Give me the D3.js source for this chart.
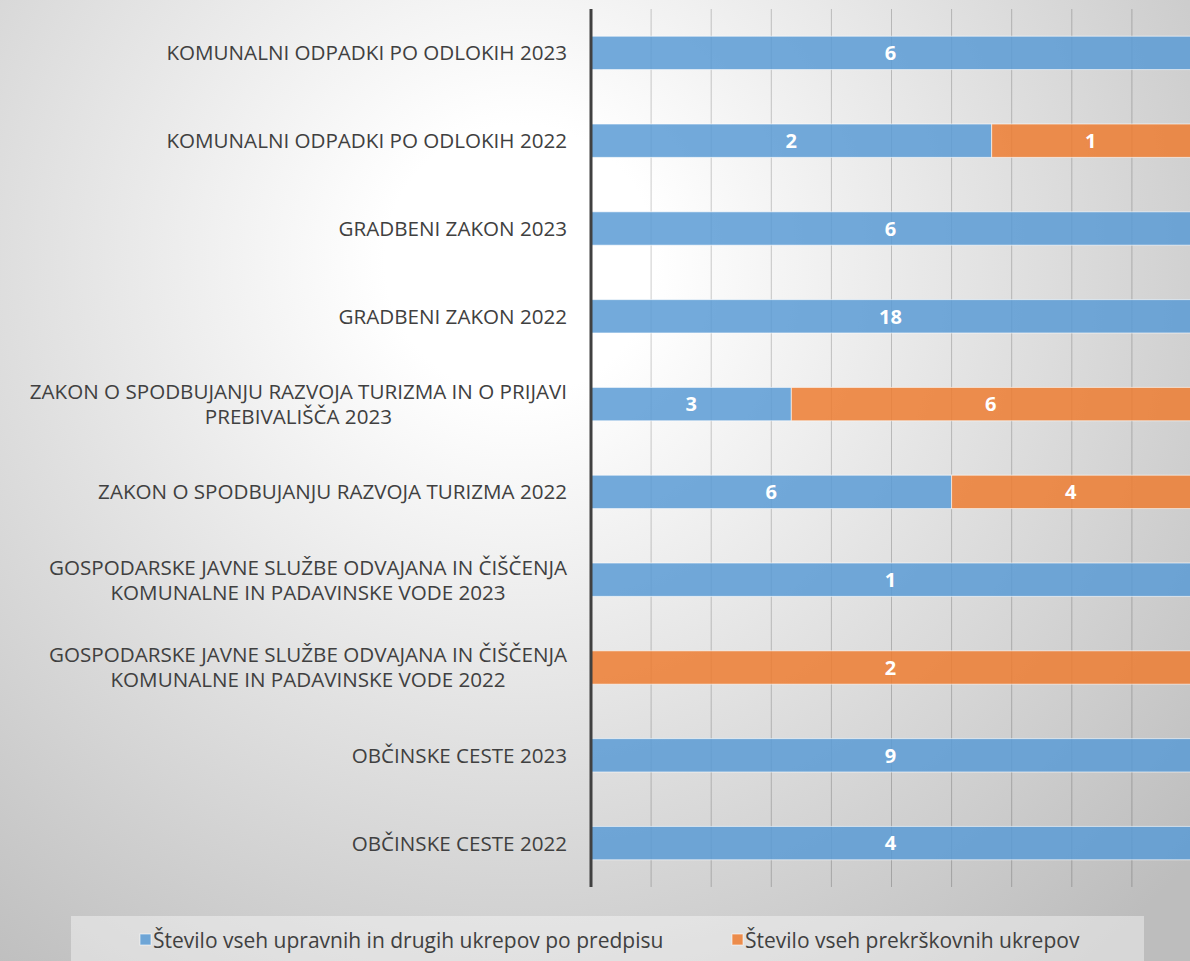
<!DOCTYPE html>
<html lang="sl">
<head>
<meta charset="utf-8">
<title>Ukrepi po predpisih</title>
<script src="https://d3js.org/d3.v7.min.js"></script>
<style>
  body { margin: 0; }
  svg { display: block; font-family: "Open Sans", sans-serif; }
</style>
</head>
<body>
<div id="chart"></div>
<script>
const categories = [
  'KOMUNALNI ODPADKI PO ODLOKIH 2023',
  'KOMUNALNI ODPADKI PO ODLOKIH 2022',
  'GRADBENI ZAKON 2023',
  'GRADBENI ZAKON 2022',
  'ZAKON O SPODBUJANJU RAZVOJA TURIZMA IN O PRIJAVI|PREBIVALIŠČA 2023',
  'ZAKON O SPODBUJANJU RAZVOJA TURIZMA 2022',
  'GOSPODARSKE JAVNE SLUŽBE ODVAJANA IN ČIŠČENJA|KOMUNALNE IN PADAVINSKE VODE 2023',
  'GOSPODARSKE JAVNE SLUŽBE ODVAJANA IN ČIŠČENJA|KOMUNALNE IN PADAVINSKE VODE 2022',
  'OBČINSKE CESTE 2023',
  'OBČINSKE CESTE 2022'
];
const upravni = [6, 2, 6, 18, 3, 6, 1, 0, 9, 4];
const prekrskovni = [0, 1, 0, 0, 6, 4, 0, 2, 0, 0];
const seriesNames = ['Število vseh upravnih in drugih ukrepov po predpisu', 'Število vseh prekrškovnih ukrepov'];
const seriesColors = ['#5b9bd5', '#ed7d31'];

const width = 1190, height = 961;
const plotLeft = 591, plotRight = 1192, plotTop = 9, plotBottom = 887;

const svg = d3.select('#chart').append('svg')
  .attr('width', width).attr('height', height);

// background
const defs = svg.append('defs');
const grad = defs.append('radialGradient')
  .attr('id', 'bg').attr('gradientUnits', 'userSpaceOnUse')
  .attr('cx', 520).attr('cy', 260).attr('r', 900);
grad.append('stop').attr('offset', 0).attr('stop-color', '#ffffff');
grad.append('stop').attr('offset', 0.15).attr('stop-color', '#ffffff');
grad.append('stop').attr('offset', 1).attr('stop-color', '#bdbdbd');
svg.append('rect').attr('width', width).attr('height', height).attr('fill', 'url(#bg)');

const rows = categories.map((c, i) => ({ cat: c, a: upravni[i], b: prekrskovni[i] }));

const x = d3.scaleLinear().domain([0, 1]).range([plotLeft, plotRight]);
const y = d3.scaleBand().domain(categories).range([plotTop, plotBottom])
  .paddingInner(0.62).paddingOuter(0.31);

// gridlines
svg.append('g')
  .selectAll('line')
  .data(d3.range(1, 11).map(d => d / 10))
  .join('line')
  .attr('x1', d => x(d)).attr('x2', d => x(d))
  .attr('y1', plotTop).attr('y2', plotBottom)
  .attr('stroke', 'rgba(0,0,0,0.2)')
  .attr('stroke-width', 1);

// stacked 100% bars
const stack = d3.stack().keys(['a', 'b']).offset(d3.stackOffsetExpand);
const series = stack(rows);

const layer = svg.append('g').selectAll('g')
  .data(series)
  .join('g')
  .attr('fill', (d, i) => seriesColors[i]);

layer.selectAll('rect')
  .data(d => d.filter(s => s[1] - s[0] > 0))
  .join('rect')
  .attr('x', d => x(d[0]))
  .attr('y', d => y(d.data.cat))
  .attr('width', d => x(d[1]) - x(d[0]))
  .attr('height', y.bandwidth())
  .attr('fill-opacity', 0.85)
  .attr('stroke', 'rgba(255,255,255,0.6)')
  .attr('stroke-width', 1);

// data labels
series.forEach((s, si) => {
  svg.append('g').selectAll('text')
    .data(s.filter(d => d[1] - d[0] > 0))
    .join('text')
    .attr('x', d => (x(d[0]) + Math.min(x(d[1]), width)) / 2)
    .attr('y', d => y(d.data.cat) + y.bandwidth() / 2)
    .attr('dy', '0.36em')
    .attr('text-anchor', 'middle')
    .attr('fill', '#ffffff')
    .attr('font-weight', 'bold')
    .attr('font-size', 20)
    .text(d => si === 0 ? d.data.a : d.data.b);
});

// axis line
svg.append('line')
  .attr('x1', plotLeft).attr('x2', plotLeft)
  .attr('y1', plotTop).attr('y2', plotBottom)
  .attr('stroke', '#404040').attr('stroke-width', 3);

// category labels
const labelRight = 567;
categories.forEach(c => {
  const lines = c.split('|');
  const t = svg.append('text')
    .attr('fill', '#404040')
    .attr('font-size', 20.6)
    .attr('text-anchor', 'middle');
  const cy = y(c) + y.bandwidth() / 2;
  const lh = 25;
  lines.forEach((ln, i) => {
    t.append('tspan')
      .attr('y', cy + (i - (lines.length - 1) / 2) * lh)
      .attr('dy', '0.36em')
      .text(ln);
  });
  let w = 0;
  t.selectAll('tspan').each(function() { w = Math.max(w, this.getComputedTextLength()); });
  t.selectAll('tspan').attr('x', labelRight - w / 2);
});

// legend
svg.append('rect')
  .attr('x', 71).attr('y', 916).attr('width', 1073).attr('height', 60)
  .attr('fill', 'rgba(255,255,255,0.4)');

const legendX = [140, 732];
seriesNames.forEach((n, i) => {
  svg.append('rect')
    .attr('x', legendX[i]).attr('y', 934)
    .attr('width', 11).attr('height', 11)
    .attr('fill', seriesColors[i]).attr('fill-opacity', 0.85)
    .attr('stroke', 'rgba(255,255,255,0.6)');
  svg.append('text')
    .attr('x', legendX[i] + 13).attr('y', 940)
    .attr('dy', '0.36em')
    .attr('fill', '#404040')
    .attr('font-size', 21)
    .text(n);
});
</script>
</body>
</html>
